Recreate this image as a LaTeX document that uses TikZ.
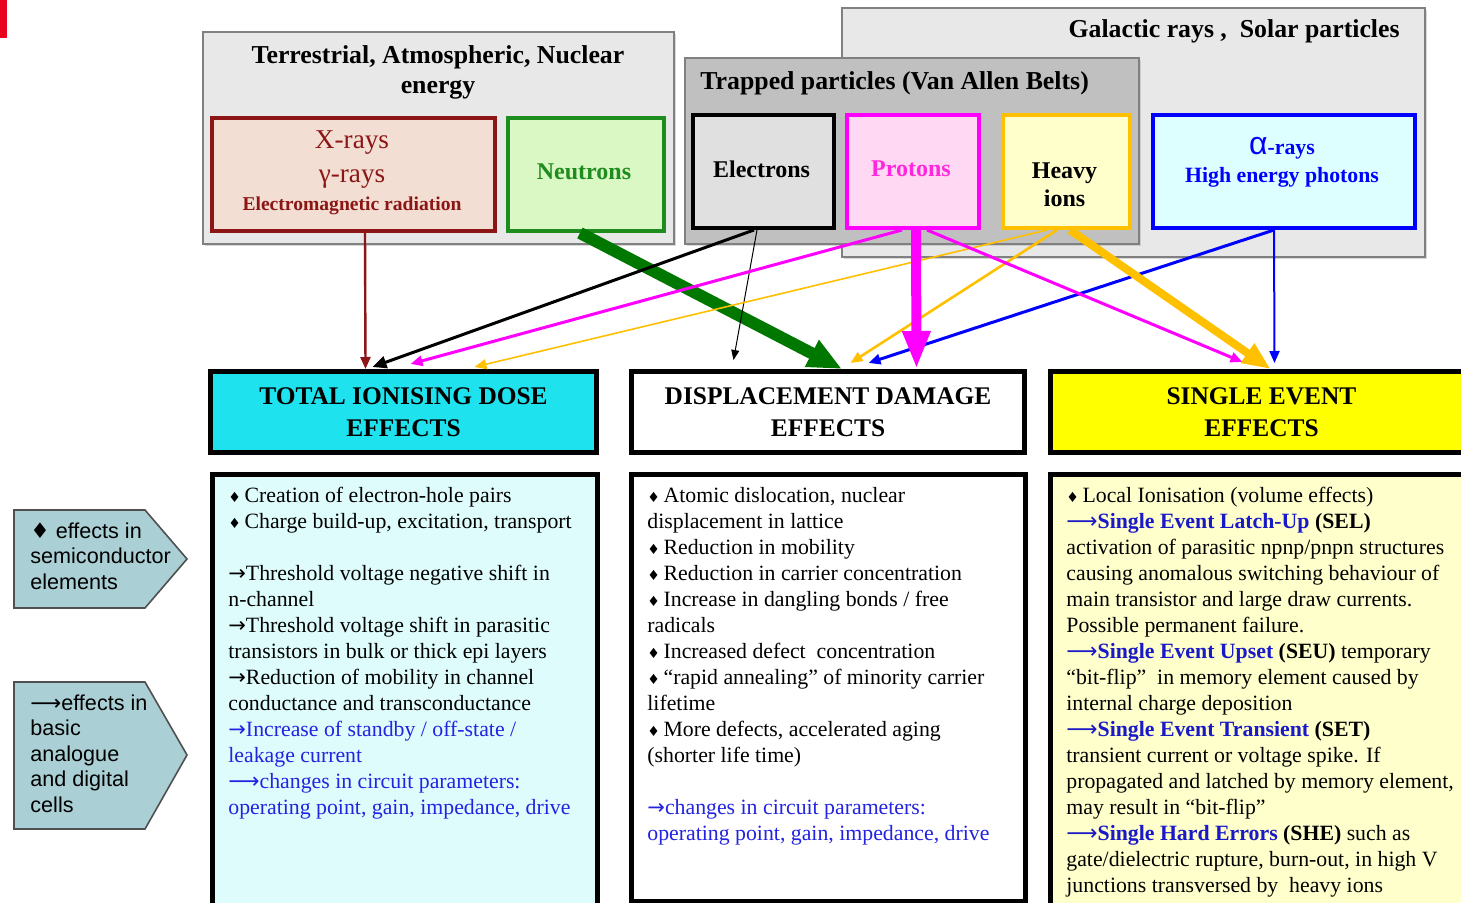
\documentclass[tikz,border=0pt]{standalone}
\usepackage{fontspec}
\setmainfont{Liberation Serif}
\newfontfamily\arialf{Liberation Sans}
\newfontfamily\symf{DejaVu Sans}
\usetikzlibrary{arrows.meta,calc,shadows}

\definecolor{boxgray}{RGB}{232,232,232}
\definecolor{trapgray}{RGB}{192,192,192}
\definecolor{edgegray}{RGB}{128,128,128}
\definecolor{xrfill}{RGB}{242,222,210}
\definecolor{xredge}{RGB}{140,22,22}
\definecolor{nfill}{RGB}{218,248,196}
\definecolor{nedge}{RGB}{30,140,30}
\definecolor{efill}{RGB}{224,224,224}
\definecolor{pfill}{RGB}{255,216,244}
\definecolor{magent}{RGB}{255,0,255}
\definecolor{ptext}{RGB}{255,40,220}
\definecolor{hfill}{RGB}{255,255,204}
\definecolor{gold}{RGB}{255,192,0}
\definecolor{afill}{RGB}{222,255,255}
\definecolor{pureblue}{RGB}{0,0,255}
\definecolor{tidhead}{RGB}{30,226,238}
\definecolor{tidfill}{RGB}{222,252,252}
\definecolor{seehead}{RGB}{255,255,0}
\definecolor{seefill}{RGB}{255,255,204}
\definecolor{txtblue}{RGB}{35,35,225}
\definecolor{boldblue}{RGB}{25,25,200}
\definecolor{arrowfill}{RGB}{170,208,214}
\definecolor{arrowedge}{RGB}{80,80,80}
\definecolor{darkgreen}{RGB}{0,120,0}
\definecolor{markred}{RGB}{232,0,28}

\newcommand\bul{{\symf\fontsize{7}{7}\selectfont ♦}\,}
\newcommand\lar{{\symf ⟶}}
\newcommand\rar{{\symf\fontsize{10.5}{13}\selectfont →}}

\begin{document}
\begin{tikzpicture}[x=0.5pt,y=-0.5pt,
  srcbox/.style={draw=edgegray, line width=1pt, fill=boxgray, inner sep=0pt, anchor=north west,
     drop shadow={shadow xshift=1.2pt,shadow yshift=-1.2pt,fill=black!30}},
  partbox/.style={line width=2pt, inner sep=0pt, anchor=north west, minimum height=56.5pt},
  headbox/.style={draw=black, line width=2.5pt, inner sep=0pt, anchor=north west, minimum height=40.5pt,
     font=\fontsize{12.7}{16}\selectfont\bfseries, align=center},
  contentbox/.style={draw=black, line width=2.5pt, inner sep=0pt, anchor=north west},
  bodytext/.style={anchor=north west, inner sep=0pt, align=left, font=\fontsize{10.9}{13}\selectfont},
  titletext/.style={font=\fontsize{12.9}{15}\selectfont\bfseries, inner sep=0pt, align=center},
  parttext/.style={font=\fontsize{12}{14}\selectfont\bfseries, inner sep=0pt, align=center},
  sidetext/.style={anchor=north west, inner sep=0pt, align=left, font=\arialf\fontsize{10.8}{12.75}\selectfont},
  sidearrow/.style={draw=arrowedge, line width=0.8pt, fill=arrowfill},
  conn/.style={-{Triangle[length=6pt,width=5pt]}}
]
\clip (0,0) rectangle (1461,903);
\fill[white] (0,0) rectangle (1461,903);
\fill[markred] (0,0) rectangle (7,38);

% source groups
\node[srcbox, minimum width=291.5pt, minimum height=124.5pt] (gal) at (841,7) {};
\node[srcbox, fill=trapgray, minimum width=227pt, minimum height=93pt] (trap) at (684,57) {};
\node[srcbox, minimum width=235.5pt, minimum height=106pt] (terr) at (202,31) {};

\node[titletext] (terrtitle) at (438,72) {Terrestrial, Atmospheric, Nuclear\\energy};
\node[titletext, anchor=east] (galtitle) at (1400,31) {Galactic rays ,\ \ Solar particles};
\node[titletext, anchor=west] (traptitle) at (700,83) {Trapped particles (Van Allen Belts)};

% particle boxes
\node[partbox, draw=xredge, fill=xrfill, minimum width=141.5pt] (xray) at (210,116) {};
\node[partbox, draw=nedge, fill=nfill, minimum width=78pt] (neut) at (506,116) {};
\node[partbox, draw=black, fill=efill, minimum width=70.5pt] (elec) at (691,113) {};
\node[partbox, draw=magent, fill=pfill, minimum width=66pt] (prot) at (845,113) {};
\node[partbox, draw=gold, fill=hfill, minimum width=63.5pt] (heavy) at (1001,113) {};
\node[partbox, draw=pureblue, fill=afill, minimum width=131pt] (alpha) at (1151,113) {};

\node[font=\fontsize{13.6}{14}\selectfont, text=xredge, inner sep=0pt] (xr1) at (352,143) {X-rays};
\node[font=\fontsize{13.6}{14}\selectfont, text=xredge, inner sep=0pt] (xr2) at (352,179) {γ-rays};
\node[font=\fontsize{9.8}{10}\selectfont\bfseries, text=xredge, inner sep=0pt] (xr3) at (352,206) {Electromagnetic radiation};
\node[parttext, text=nedge] (neuttxt) at (584,172) {Neutrons};
\node[parttext] (electxt) at (761.5,169) {Electrons};
\node[parttext, text=ptext] (prottxt) at (911,169) {Protons};
\node[parttext] (heavytxt) at (1064.5,185) {Heavy\\ions};
\node[inner sep=0pt, text=pureblue, font=\fontsize{10.9}{12}\selectfont\bfseries] (alpha1) at (1282,148) {{\arialf\mdseries\fontsize{16}{16}\selectfont α}-rays};
\node[inner sep=0pt, text=pureblue, font=\fontsize{10.9}{12}\selectfont\bfseries] (alpha2) at (1282,177) {High energy photons};

% effect headers
\node[headbox, fill=tidhead, minimum width=193pt] (tid) at (208,369) {TOTAL IONISING DOSE\\EFFECTS};
\node[headbox, fill=white, minimum width=196.5pt] (dd) at (629,369) {DISPLACEMENT DAMAGE\\EFFECTS};
\node[headbox, fill=seehead, minimum width=211pt] (see) at (1048,369) {SINGLE EVENT\\EFFECTS};

% connectors
\draw[conn, xredge, line width=1.2pt] ($(xray.south)+(11.5,0)$) -- ($(tid.north)+(-38,0)$);
\draw[-{Triangle[length=17pt,width=14pt]}, darkgreen, line width=6pt] ($(neut.south)+(-6,0)$) -- ($(dd.north)+(14,0)$);
\draw[-{Triangle[length=7pt,width=6pt]}, black, line width=1.5pt] ($(elec.south)+(-9.5,0)$) -- ($(tid.north)+(-31,-2)$);
\draw[-{Triangle[length=5pt,width=4pt]}, black, line width=0.5pt] ($(elec.south)+(-6.5,0)$) -- ($(dd.north)+(-94.5,-9)$);
\draw[conn, magent, line width=1.5pt] ($(prot.south)+(-11,0)$) -- ($(tid.north)+(7,-5)$);
\draw[conn, gold, line width=0.8pt] ($(heavy.south)+(-19.5,0)$) -- ($(tid.north)+(71,-2)$);
\draw[conn, gold, line width=1.3pt] ($(heavy.south)+(-9.5,0)$) -- ($(dd.north)+(22.5,-6)$);
\draw[conn, pureblue, line width=1.5pt] ($(alpha.south)+(-10,0)$) -- ($(dd.north)+(40.5,-6)$);
\draw[-{Triangle[length=19pt,width=13pt]}, magent, line width=5pt] ($(prot.south)+(3,0)$) -- ($(dd.north)+(88.5,0)$);
\draw[conn, magent, line width=1.5pt] ($(prot.south)+(14,0)$) -- ($(see.north)+(-19,-7)$);
\draw[-{Triangle[length=14pt,width=11pt]}, gold, line width=4pt] ($(heavy.south)+(3.5,0)$) -- ($(see.north)+(9,0)$);
\draw[conn, pureblue, line width=1pt] ($(alpha.south)+(-10,0)$) -- ($(see.north)+(13,-6)$);

% content boxes
\node[contentbox, fill=tidfill, minimum width=192.5pt, minimum height=224pt] (tidc) at (210,472) {};
\node[contentbox, fill=white, minimum width=197pt, minimum height=213.5pt] (ddc) at (629,472) {};
\node[contentbox, fill=seefill, minimum width=216pt, minimum height=224pt] (seec) at (1048,472) {};

\node[bodytext] (tidtxt) at (228,487) {%
\bul Creation of electron-hole pairs\\
\bul Charge build-up, excitation, transport\\[13pt]
\rar Threshold voltage negative shift in\\
n-channel\\
\rar Threshold voltage shift in parasitic\\
transistors in bulk or thick epi layers\\
\rar Reduction of mobility in channel\\
conductance and transconductance\\
{\color{txtblue}\rar Increase of standby / off-state /}\\
{\color{txtblue}leakage current}\\
{\color{txtblue}\lar changes in circuit parameters:}\\
{\color{txtblue}operating point, gain, impedance, drive}};

\node[bodytext] (ddtxt) at (647,487) {%
\bul Atomic dislocation, nuclear\\
displacement in lattice\\
\bul Reduction in mobility\\
\bul Reduction in carrier concentration\\
\bul Increase in dangling bonds / free\\
radicals\\
\bul Increased defect\ \ concentration\\
\bul “rapid annealing” of minority carrier\\
lifetime\\
\bul More defects, accelerated aging\\
(shorter life time)\\[13pt]
{\color{txtblue}\rar changes in circuit parameters:}\\
{\color{txtblue}operating point, gain, impedance, drive}};

\node[bodytext] (seetxt) at (1066,487) {%
\bul Local Ionisation (volume effects)\\
{\color{boldblue}\lar\textbf{Single Event Latch-Up}} \textbf{(SEL)}\\
activation of parasitic npnp/pnpn structures\\
causing anomalous switching behaviour of\\
main transistor and large draw currents.\\
Possible permanent failure.\\
{\color{boldblue}\lar\textbf{Single Event Upset}} \textbf{(SEU)} temporary\\
“bit-flip”\ \ in memory element caused by\\
internal charge deposition\\
{\color{boldblue}\lar\textbf{Single Event Transient}} \textbf{(SET)}\\
transient current or voltage spike. If\\
propagated and latched by memory element,\\
may result in “bit-flip”\\
{\color{boldblue}\lar\textbf{Single Hard Errors}} \textbf{(SHE)} such as\\
gate/dielectric rupture, burn-out, in high V\\
junctions transversed by\ \ heavy ions};

% side arrows
\draw[sidearrow] (14,510) -- (145,510) -- (187,559) -- (145,608) -- (14,608) -- cycle;
\draw[sidearrow] (14,682) -- (145,682) -- (187,755) -- (145,829) -- (14,829) -- cycle;
\node[sidetext] (side1) at (30,522) {{\symf ♦} effects in\\semiconductor\\elements};
\node[sidetext] (side2) at (30,694) {\lar effects in\\basic\\analogue\\and digital\\cells};
\end{tikzpicture}
\end{document}
